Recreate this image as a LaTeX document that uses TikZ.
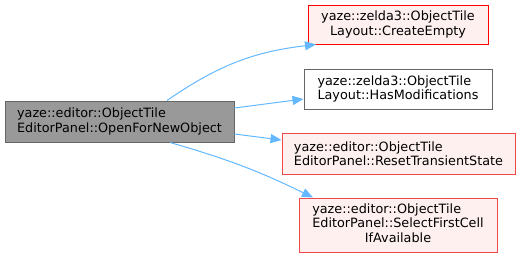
\documentclass[tikz,border=0pt]{standalone}
\usepackage{fontspec}
\setmainfont{DejaVu Sans}
\usetikzlibrary{arrows.meta}
\definecolor{edgeblue}{HTML}{63B8FF}
\definecolor{srcfill}{HTML}{999999}
\definecolor{boxgray}{HTML}{666666}
\definecolor{redfill}{HTML}{FFF0F0}
\definecolor{redline}{HTML}{FF0000}
\definecolor{redsoft}{HTML}{F04848}
\tikzset{
  box/.style={draw, rectangle, inner sep=0pt, line width=1pt,
    font=\fontsize{12.8}{14.5}\selectfont, text=black},
  srcbox/.style={box, fill=srcfill, draw=boxgray},
  redbox/.style={box, fill=redfill, draw=redline},
  softbox/.style={box, fill=redfill, draw=redsoft},
  plainbox/.style={box, fill=white, draw=boxgray},
  conn/.style={draw=edgeblue, line width=1pt, -{Triangle[length=11pt,width=9pt]}}
}
\begin{document}
\begin{tikzpicture}[x=1pt,y=-1pt]
\useasboundingbox (0,0) rectangle (520,258);
\node[srcbox, minimum width=229pt, minimum height=41pt, align=left] (src) at (119.5,121.5)
  {yaze::editor::ObjectTile\\EditorPanel::OpenForNewObject};
\node[redbox, minimum width=180pt, minimum height=39pt, align=center] (ce) at (398,24.5)
  {yaze::zelda3::ObjectTile\\Layout::CreateEmpty};
\node[plainbox, minimum width=188pt, minimum height=40pt, align=left] (hm) at (398,89)
  {yaze::zelda3::ObjectTile\\Layout::HasModifications};
\node[softbox, minimum width=233pt, minimum height=41pt, align=left] (rs) at (398.5,153.5)
  {yaze::editor::ObjectTile\\EditorPanel::ResetTransientState};
\node[softbox, minimum width=198pt, minimum height=54pt] (sf) at (398,225)
  {\begin{tabular}{@{}l@{}}yaze::editor::ObjectTile\\EditorPanel::SelectFirstCell\\\multicolumn{1}{@{}c@{}}{IfAvailable}\end{tabular}};
\draw[conn] ([xshift=47.5pt]src.north) to[bend left=14] ([xshift=-82pt]ce.south);
\draw[conn] ([yshift=13.5pt]src.east) -- ([yshift=-10pt]hm.west);
\draw[conn] ([yshift=-12.5pt]src.east) -- ([yshift=13.5pt]rs.west);
\draw[conn] ([xshift=50.5pt]src.south) to[bend left=5] ([xshift=-85pt]sf.north);
\end{tikzpicture}
\end{document}
